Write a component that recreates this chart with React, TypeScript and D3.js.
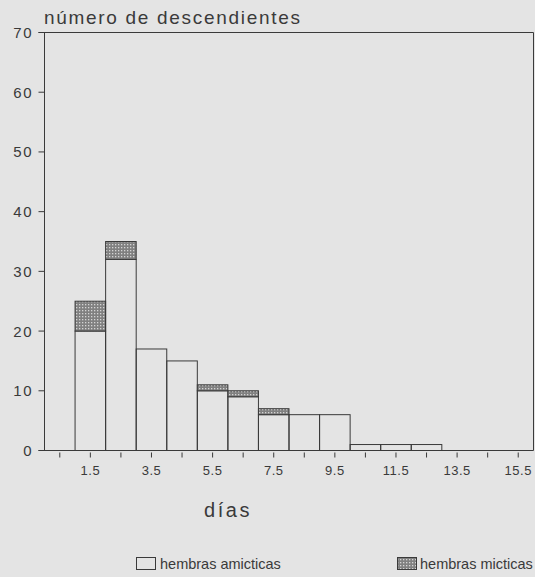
import React from 'react';
import * as d3 from 'd3';

// inicio de cada intervalo de un día
const dias = [1, 2, 3, 4, 5, 6, 7, 8, 9, 10, 11, 12, 13, 14, 15];
const amicticas = [20, 32, 17, 15, 10, 9, 6, 6, 6, 1, 1, 1, 0, 0, 0];
const micticas = [5, 3, 0, 0, 1, 1, 1, 0, 0, 0, 0, 0, 0, 0, 0];
const xTickLabels = ['1.5', '3.5', '5.5', '7.5', '9.5', '11.5', '13.5', '15.5'];
const xMinorTicks = [0.5, 1.5, 2.5, 3.5, 4.5, 5.5, 6.5, 7.5, 8.5, 9.5, 10.5, 11.5, 12.5, 13.5, 14.5, 15.5];
const yTicks = [0, 10, 20, 30, 40, 50, 60, 70];

const W = 535;
const H = 577;
const bg = '#e4e4e4';
const ink = '#3a3a3a';
const font = '"Liberation Sans", Arial, sans-serif';

export default function App() {
  const x = d3.scaleLinear().domain([0, 16]).range([44.5, 533.5]);
  const y = d3.scaleLinear().domain([0, 70]).range([450.5, 32.5]);

  return (
    <svg width={W} height={H} style={{ position: 'absolute', left: 0, top: 0, background: bg }}>
      <defs>
        <pattern id="mict" width="3" height="3" patternUnits="userSpaceOnUse">
          <rect width="3" height="3" fill="#808080" />
          <rect x="1" y="1" width="1.3" height="1.3" fill="#d4d4d4" />
        </pattern>
      </defs>
      <rect width={W} height={H} fill={bg} />

      {/* título */}
      <text x={44} y={24} fontFamily={font} fontSize={19} fill={ink} textLength={256} lengthAdjust="spacing">
        número de descendientes
      </text>

      {/* barras */}
      {dias.map((d, i) => {
        const x0 = x(d);
        const x1 = x(d + 1);
        return (
          <g key={d}>
            {amicticas[i] > 0 && (
              <rect x={x0} y={y(amicticas[i])} width={x1 - x0} height={y(0) - y(amicticas[i])}
                fill="none" stroke={ink} strokeWidth={1} />
            )}
            {micticas[i] > 0 && (
              <rect x={x0} y={y(amicticas[i] + micticas[i])} width={x1 - x0}
                height={y(amicticas[i]) - y(amicticas[i] + micticas[i])}
                fill="url(#mict)" stroke={ink} strokeWidth={1} />
            )}
          </g>
        );
      })}

      {/* marco */}
      <line x1={x(0)} x2={x(0)} y1={y(70)} y2={y(0)} stroke={ink} />
      <line x1={x(0) - 6} x2={x(16)} y1={y(0)} y2={y(0)} stroke={ink} />
      <line x1={x(0) - 6} x2={x(16)} y1={y(70)} y2={y(70)} stroke={ink} />
      <line x1={x(16)} x2={x(16)} y1={y(70)} y2={y(0)} stroke={ink} />

      {/* eje y */}
      {yTicks.map(t => (
        <g key={t}>
          <line x1={x(0) - 6} x2={x(0)} y1={y(t)} y2={y(t)} stroke={ink} />
          <text x={33} y={y(t) + 5.5} textAnchor="end" fontFamily={font} fontSize={15} fill={ink} letterSpacing={1.5}>
            {t}
          </text>
        </g>
      ))}

      {/* eje x */}
      {xMinorTicks.map(t => (
        <line key={t} x1={x(t)} x2={x(t)} y1={y(0) + 2} y2={y(0) + 7} stroke={ink} />
      ))}
      {xTickLabels.map(l => (
        <text key={l} x={x(+l)} y={475} textAnchor="middle" fontFamily={font} fontSize={13} fill={ink} letterSpacing={0.5}>
          {l}
        </text>
      ))}
      <text x={228} y={517} textAnchor="middle" fontFamily={font} fontSize={20} fill={ink} letterSpacing={2.5}>
        días
      </text>

      {/* leyenda */}
      <rect x={136.5} y={557.5} width={19} height={12} fill="none" stroke={ink} />
      <text x={160} y={569} fontFamily={font} fontSize={14.5} fill={ink}>hembras amicticas</text>
      <rect x={397.5} y={557.5} width={19} height={12} fill="url(#mict)" stroke={ink} />
      <text x={420} y={569} fontFamily={font} fontSize={14.5} fill={ink}>hembras micticas</text>
    </svg>
  );
}
